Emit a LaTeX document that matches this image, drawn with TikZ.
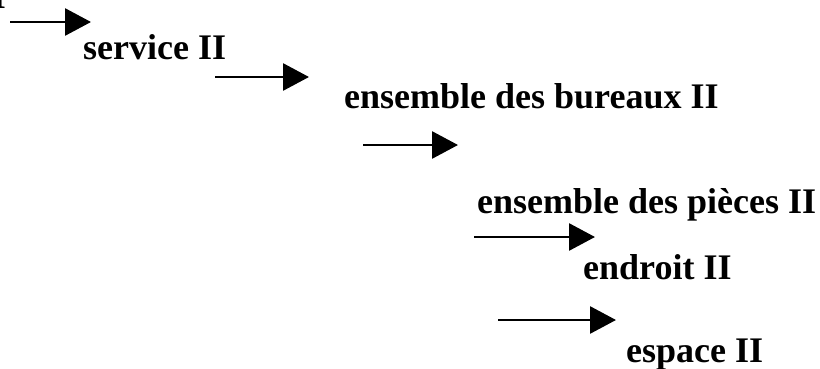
\documentclass[tikz,border=0pt]{standalone}
\usepackage{fontspec}
\setmainfont{Liberation Serif}
\usetikzlibrary{arrows.meta}
\begin{document}
\begin{tikzpicture}[x=1pt,y=-1pt,
  term/.style={font=\bfseries\fontsize{36}{42}\selectfont, inner sep=0pt, anchor=base west},
  link/.style={line width=2.8pt, -{Triangle[length=26pt,width=27pt]}}]
  \useasboundingbox (0,0) rectangle (820,369);
  \clip (0,0) rectangle (820,369);
  % tail of the preceding level, cut by the frame
  \node[term, anchor=base east] (prev) at (6,9) {II};
  % levels of the hierarchy
  \node[term] (service) at (83,60) {service II};
  \node[term] (bureaux) at (344,108) {ensemble des bureaux II};
  \node[term] (pieces)  at (477,213) {ensemble des pièces II};
  \node[term] (endroit) at (583,279) {endroit II};
  \node[term] (espace)  at (626,362) {espace II};
  % arrow end points
  \coordinate (a1s) at (10,22);  \coordinate (a1e) at (91,22);
  \coordinate (a2s) at (215,77); \coordinate (a2e) at (309,77);
  \coordinate (a3s) at (363,145);\coordinate (a3e) at (458,145);
  \coordinate (a4s) at (474,237);\coordinate (a4e) at (595,237);
  \coordinate (a5s) at (498,320);\coordinate (a5e) at (616,320);
  \draw[link] (a1s) -- (a1e);
  \draw[link] (a2s) -- (a2e);
  \draw[link] (a3s) -- (a3e);
  \draw[link] (a4s) -- (a4e);
  \draw[link] (a5s) -- (a5e);
\end{tikzpicture}
\end{document}
